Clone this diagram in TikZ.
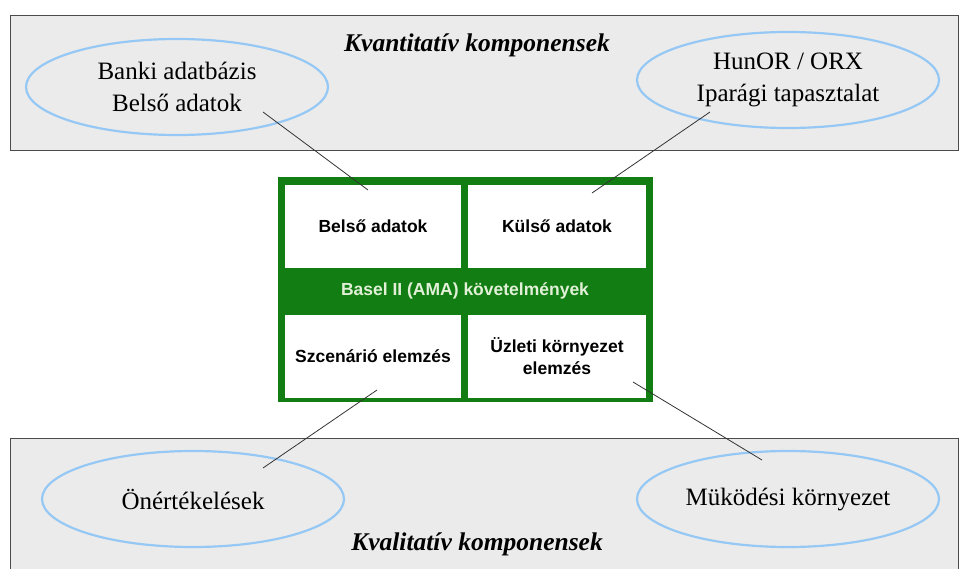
\documentclass[tikz,border=0pt]{standalone}
\usepackage{fontspec}
\setmainfont{Liberation Serif}
\newfontfamily\arialfont{Liberation Sans}
\usepackage{tikz}
\usetikzlibrary{shapes.geometric}
\usetikzlibrary{positioning, calc}
\definecolor{panelgray}{RGB}{235,235,235}
\definecolor{ellblue}{RGB}{150,200,245}
\definecolor{amagreen}{RGB}{18,125,18}
\definecolor{bandtext}{RGB}{225,240,215}

\begin{document}
\begin{tikzpicture}[x=1pt, y=-1pt,
    panel/.style={draw=black!70, line width=0.8pt, fill=panelgray},
    oval/.style={ellipse, draw=ellblue, line width=2.2pt, minimum width=302, minimum height=96,
        inner sep=0pt, align=center, font=\fontsize{25}{32}\selectfont},
    cell/.style={rectangle, fill=white, inner sep=0pt, align=center,
        minimum width=176, minimum height=83, font=\arialfont\bfseries\fontsize{17.5}{22}\selectfont},
    heading/.style={font=\bfseries\itshape\fontsize{25.5}{30}\selectfont},
    link/.style={draw=black!80, line width=0.8pt}]
\useasboundingbox (0,0) rectangle (960,568);

% the two gray panels
\draw[panel] (10,15) rectangle (958,150);
\draw[panel] (10,438) rectangle (958,575);

\node[heading] (kvant) at (477,45) {Kvantitatív komponensek};
\node[heading] (kval) at (477,544) {Kvalitatív komponensek};

% the ovals
\node[oval] (banki) at (177,87) {Banki adatbázis\\Belső adatok};
\node[oval] (hunor) at (788,80) {HunOR / ORX\\Iparági tapasztalat};
\node[oval] (onert) at (193,499) {Önértékelések};
\node[oval] (mukod) at (788,499) {Müködési környezet};

% the AMA box
\fill[amagreen] (278,177) rectangle (653,402);
\node[cell] (belso) at (373,226.5) {Belső adatok};
\node[cell, minimum width=178] (kulso) at (557,226.5) {Külső adatok};
\node[cell] (szcen) at (373,356) {Szcenárió elemzés};
\node[cell, minimum width=178] (uzlet) at (557,356) {Üzleti környezet\\elemzés};
\node[text=bandtext, font=\arialfont\bfseries\fontsize{17.5}{21}\selectfont] (basel) at (465,291)
    {Basel II (AMA) követelmények};

% connectors
\coordinate (bankiEnd) at (263,112);
\coordinate (belsoEnd) at (368,190);
\coordinate (hunorEnd) at (710,112);
\coordinate (kulsoEnd) at (592,193);
\coordinate (onertEnd) at (263,468);
\coordinate (szcenEnd) at (377,390);
\coordinate (mukodEnd) at (762,460);
\coordinate (uzletEnd) at (633,382);

\foreach \a/\b in {bankiEnd/belsoEnd, hunorEnd/kulsoEnd, onertEnd/szcenEnd, mukodEnd/uzletEnd}
    \draw[link] (\a) -- (\b);

\end{tikzpicture}
\end{document}
